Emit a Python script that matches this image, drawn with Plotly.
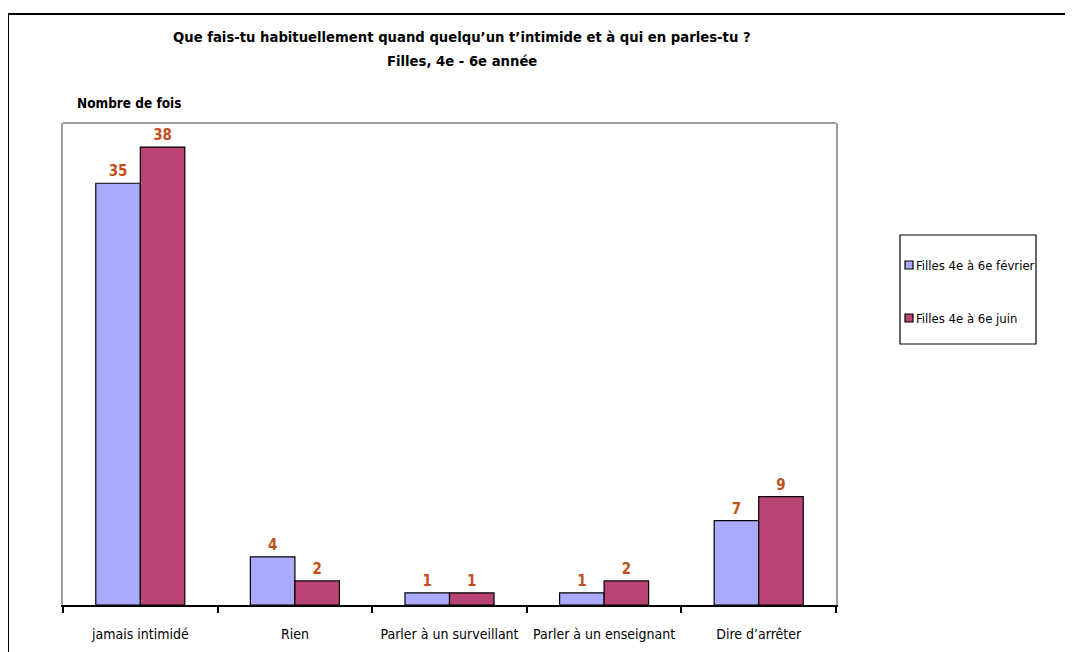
import plotly.graph_objects as go

categories = ["jamais intimidé", "Rien", "Parler à un surveillant", "Parler à un enseignant", "Dire d’arrêter"]
fevrier = [35, 4, 1, 1, 7]
juin = [38, 2, 1, 2, 9]
series_names = ["Filles 4e à 6e février", "Filles 4e à 6e juin"]
series_colors = ["#AAAAFF", "#BB4477"]

FONT = "DejaVu Sans Condensed, Liberation Sans Narrow, Liberation Sans, Arial, sans-serif"
OFF = 8  # page body margin
W, H = 1073 - OFF, 652 - OFF
# target screen pixel positions of plot area
SL, SR, ST, SB = 63, 836, 123, 605
L, R, T, B = SL - OFF, SR - OFF, ST - OFF, SB - OFF

def px(x):
    return (x - SL) / (SR - SL)

def py(y):
    return (SB - y) / (SB - ST)

fig = go.Figure()
for name, vals, col in zip(series_names, [fevrier, juin], series_colors):
    fig.add_trace(go.Bar(
        x=categories, y=vals, name=name,
        marker=dict(color=col, line=dict(color="#000000", width=1.2)),
        text=vals, texttemplate="<b>%{y}</b>", textposition="outside", cliponaxis=False,
        textfont=dict(family=FONT, size=15, color="#C0501A"),
    ))

shapes = [
    dict(type="line", xref="paper", yref="paper", x0=0, x1=1, y0=1, y1=1,
         line=dict(color="#A0A0A0", width=2), layer="below"),
    dict(type="rect", xref="paper", yref="paper",
         x0=px(8), x1=px(1090), y0=py(670), y1=py(14),
         line=dict(color="black", width=2), fillcolor="rgba(0,0,0,0)"),
    # legend box
    dict(type="rect", xref="paper", yref="paper",
         x0=px(900), x1=px(1036), y0=py(344), y1=py(235),
         line=dict(color="black", width=1.2), fillcolor="white"),
]
annotations = [
    dict(text="<b>Que fais-tu habituellement quand quelqu’un t’intimide et à qui en parles-tu ?</b>",
         xref="paper", yref="paper", x=px(462), y=py(37), xanchor="center", yanchor="middle",
         showarrow=False, font=dict(family=FONT, size=14.7, color="black")),
    dict(text="<b>Filles, 4e - 6e année</b>",
         xref="paper", yref="paper", x=px(462), y=py(60), xanchor="center", yanchor="middle",
         showarrow=False, font=dict(family=FONT, size=14.7, color="black")),
    dict(text="<b>Nombre de fois</b>",
         xref="paper", yref="paper", x=px(75), y=py(103), xanchor="left", yanchor="middle",
         showarrow=False, font=dict(family=FONT, size=13.5, color="black")),
]
for i, (name, col) in enumerate(zip(series_names, series_colors)):
    yc = 265 + 53 * i
    shapes.append(dict(type="rect", xref="paper", yref="paper",
                       x0=px(905), x1=px(913), y0=py(yc + 4), y1=py(yc - 4),
                       line=dict(color="black", width=1.2), fillcolor=col))
    annotations.append(dict(text=name, xref="paper", yref="paper",
                            x=px(914), y=py(yc), xanchor="left", yanchor="middle",
                            showarrow=False, font=dict(family=FONT, size=13, color="black")))

fig.update_layout(
    width=W, height=H,
    margin=dict(l=L, r=W - R, t=T, b=H - B, pad=0, autoexpand=False),
    paper_bgcolor="white", plot_bgcolor="white",
    barmode="group", bargap=0.424, bargroupgap=0,
    font=dict(family=FONT, size=14, color="black"),
    showlegend=False,
    xaxis=dict(
        showline=True, linecolor="black", linewidth=1.5, automargin=False,
        ticks="outside", tickson="boundaries", ticklen=6, tickcolor="black", tickwidth=1.5,
        ticklabelstandoff=15, showgrid=False, tickangle=0,
        tickfont=dict(family=FONT, size=14, color="black"),
    ),
    yaxis=dict(
        range=[0, 40], showticklabels=False, showgrid=False, zeroline=False, automargin=False,
        showline=True, linecolor="#A0A0A0", linewidth=2, mirror=True, ticks="",
    ),
    shapes=shapes,
    annotations=annotations,
)

fig.write_html("out.html")
